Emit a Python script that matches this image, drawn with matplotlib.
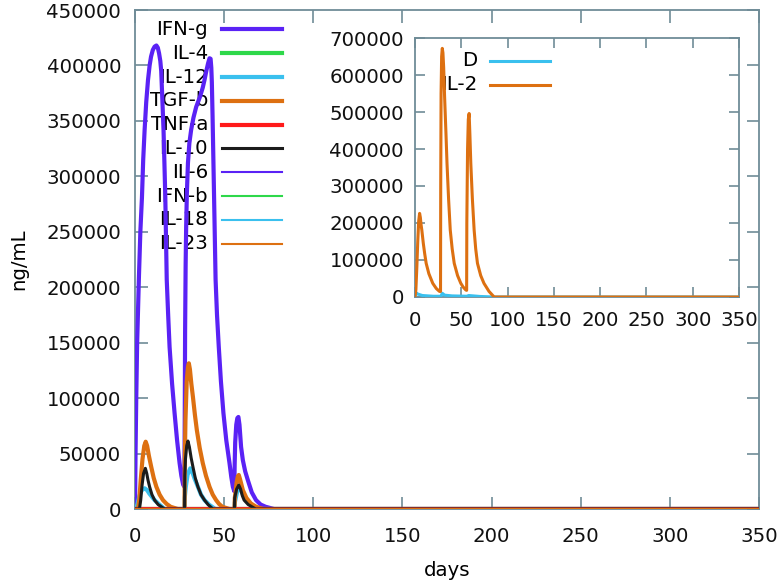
import matplotlib
matplotlib.use("Agg")
import matplotlib.pyplot as plt
from matplotlib.lines import Line2D

# values (days, ng/mL)
ifng_t = [0, 0.3, 0.7, 1.2, 2.2, 3, 3.9, 4.6, 5.4, 6.3, 7.3, 8.2, 9, 10, 11, 12, 12.8, 13.5, 14.2,
          14.7, 15.2, 16, 16.5, 17, 17.8, 18.6, 19.4, 20.8, 22.2, 23.6, 25, 26, 27, 27.7,
          27.9, 28.1, 28.4, 28.7, 29.1, 29.7, 30.5, 31.5, 32.8, 34.3, 36.5, 38, 39, 40, 41, 41.8,
          42.4, 42.8, 43.1, 43.5, 44, 44.6, 45.2, 46, 47, 48.2, 49.6, 51.2, 53, 54, 54.9, 55.7,
          55.9, 56.2, 56.8, 57.4, 58, 58.6, 59.5, 60.5, 61.8, 63.3, 65.5, 67.9, 70.5, 73.3, 78, 350]
ifng_v = [0, 50000, 100000, 150000, 209000, 250000, 281000, 315000, 342000, 367000, 387000, 400000,
          408000, 414000, 417000, 418000, 416000, 411000, 404000, 395000, 375000, 342000, 312000,
          281000, 207000, 175000, 146000, 113000, 86500, 62000, 41500, 30000, 22000, 20000,
          80000, 160000, 220000, 255000, 285000, 312000, 330000, 342000, 353000, 362500, 372000,
          380000, 387000, 395000, 402000, 406500, 406000, 398000, 385000, 355000, 312000, 260000,
          207000, 175000, 146000, 115000, 86500, 62000, 41500, 29000, 20000, 16000,
          40000, 60000, 76000, 82000, 83000, 76000, 56000, 44000, 34000, 26000, 15000, 8000, 4000,
          2000, 0, 0]

tgfb_t = [0, 1.7, 2.5, 3.2, 4.2, 5.2, 6, 6.8, 7.8, 9.1, 10.5, 12, 13.8, 15.7, 17.8, 20, 24, 27.8,
          27.9, 28.3, 29, 29.7, 30.2, 30.8, 31.6, 32.5, 33.6, 34.7, 36.3, 38, 39.8, 41.8, 43.6, 45.5,
          47.2, 49, 53, 55.8, 56, 57, 57.7, 58.2, 58.9, 60.5, 62.5, 65, 68, 72, 350]
tgfb_v = [0, 0, 10000, 26000, 45000, 57000, 60700, 57000, 48000, 38000, 28000, 20000, 13000, 8000,
          4500, 2000, 0, 0, 40000, 80000, 115000, 128000, 131400, 126000, 113000, 101000, 85000,
          71000, 55000, 41500, 30000, 20000, 13000, 8000, 4500, 2000, 0, 0, 10000, 24000, 29500,
          30700, 27000, 17000, 10000, 5000, 2000, 0, 0]

il10_t = [0, 2.5, 3.2, 4, 4.8, 5.8, 6.6, 7.3, 8.2, 9.5, 11, 13, 16.6, 27.8, 27.9, 28.3, 29, 29.7,
          30.5, 31.5, 32.5, 33.8, 35.3, 37, 39, 41, 43.7, 55.8, 55.9, 57, 58.2, 59.2, 60.2, 61.2,
          63.5, 67.7, 350]
il10_v = [0, 0, 8000, 22000, 32000, 36700, 32000, 26000, 20000, 13000, 8000, 4000, 0, 0, 30000,
          45000, 57000, 61300, 56000, 46000, 38000, 28000, 20000, 13000, 8000, 4000, 0, 0, 10000,
          18000, 21600, 18000, 12000, 8000, 4000, 0, 0]

il12_t = [0, 0.6, 1.5, 2.5, 3.8, 5.4, 6.8, 8, 9.5, 11, 13, 14.8, 16.6, 27.8, 27.9, 28.5, 29.5, 31,
          32.2, 33.5, 35.3, 37, 39, 41.5, 45, 55.8, 56, 57.5, 58.5, 60, 62, 65, 68, 350]
il12_v = [0, 0, 5000, 12000, 17000, 18700, 17000, 14000, 11000, 8000, 5000, 2500, 0, 0, 10000,
          20000, 31000, 36700, 33000, 27000, 20000, 13000, 8000, 4000, 0, 0, 6000, 17000, 20000,
          15000, 9000, 4000, 0, 0]

zero_t = [0, 350]
zero_v = [0, 0]

il2_t = [0, 1, 2, 3, 4, 5, 5.8, 6.6, 7.4, 9, 10.5, 12.1, 15, 19.2, 23, 26.5, 27.6,
         27.8, 28.2, 28.8, 29.5, 30.2, 31, 32, 33.5, 34.6, 36.3, 38.1, 40.2, 42.4, 46, 49.5, 52,
         54.9, 55.8, 56, 56.8, 57.6, 58.5, 59.3, 60.3, 62, 63.9, 65.6, 67.5, 71, 74.5, 80, 85.5, 350]
il2_v = [0, 20000, 80000, 150000, 205000, 226000, 215000, 195000, 181000, 145000, 117000, 91000,
         63000, 37000, 23000, 15000, 15000, 300000, 550000, 650000, 672000, 660000, 620000, 541000,
         440000, 361000, 265000, 181000, 130000, 91000, 58000, 37000, 27000, 19000, 18000, 200000,
         400000, 480000, 496000, 440000, 361000, 265000, 181000, 130000, 91000, 58000, 37000, 15000,
         0, 0]

d_t = [0, 1, 3, 8, 20, 28, 29.5, 32, 40, 56, 58, 70, 85, 350]
d_v = [0, 12000, 8000, 4000, 2000, 2000, 10000, 5000, 3000, 2000, 4000, 1500, 0, 0]

violet = "#5a22f5"
green = "#2ed84a"
sky = "#3ac0ee"
orange = "#dd7011"
red = "#ff1a1a"
black = "#1c1c1c"
frame = "#6f8c97"

main_series = [
    ("IFN-g", ifng_t, ifng_v, violet, 3.0),
    ("IL-4", zero_t, zero_v, green, 3.0),
    ("IL-12", il12_t, il12_v, sky, 3.0),
    ("TGF-b", tgfb_t, tgfb_v, orange, 3.0),
    ("TNF-a", zero_t, zero_v, red, 3.0),
    ("IL-10", il10_t, il10_v, black, 2.2),
    ("IL-6", zero_t, zero_v, violet, 1.5),
    ("IFN-b", zero_t, zero_v, green, 1.5),
    ("IL-18", zero_t, zero_v, sky, 1.5),
    ("IL-23", zero_t, zero_v, orange, 1.5),
]
inset_series = [
    ("D", d_t, d_v, sky, 2.2),
    ("IL-2", il2_t, il2_v, orange, 2.2),
]

plt.rcParams['font.family'] = 'DejaVu Sans'
plt.rcParams['font.size'] = 14.2

fig = plt.figure(figsize=(7.79, 5.82), dpi=100)
ax = fig.add_axes([0.1733, 0.1254, 0.8010, 0.8574])


def style(a, tick_len):
    for s in a.spines.values():
        s.set_color(frame)
        s.set_linewidth(1.3)
    a.tick_params(direction="in", length=tick_len, width=1.2, color=frame,
                  top=True, right=True, labelcolor="#111111")


def key(a, series, x_text, x0, x1, y_start, dy):
    for i, (name, t, v, c, lw) in enumerate(series):
        y = y_start - i * dy
        a.text(x_text, y, name, transform=a.transAxes, ha="right", va="center", zorder=1)
        a.add_line(Line2D([x0, x1], [y, y], transform=a.transAxes, color=c, lw=lw, zorder=1))


key(ax, main_series, 0.117, 0.140, 0.236, 0.961, 0.0477)
for i, (name, t, v, c, lw) in enumerate(main_series):
    ax.plot(t, v, color=c, lw=lw, zorder=3 + i, solid_joinstyle="round")

ax.set_xlim(0, 350)
ax.set_ylim(0, 450000)
ax.set_xticks(range(0, 351, 50))
ax.set_yticks(range(0, 450001, 50000))
ax.set_xlabel("days", labelpad=11)
ax.set_ylabel("ng/mL", labelpad=13)
style(ax, 9)
ax.tick_params(axis="x", pad=13)
ax.tick_params(axis="y", pad=10)

ins = fig.add_axes([0.5327, 0.4897, 0.4160, 0.4450])
ins.set_facecolor("white")
key(ins, inset_series, 0.193, 0.232, 0.417, 0.912, 0.093)
for i, (name, t, v, c, lw) in enumerate(inset_series):
    ins.plot(t, v, color=c, lw=lw, zorder=3 + i, solid_joinstyle="round")
ins.set_xlim(0, 350)
ins.set_ylim(0, 700000)
ins.set_xticks(range(0, 351, 50))
ins.set_yticks(range(0, 700001, 100000))
style(ins, 7)
ins.tick_params(axis="x", pad=10)
ins.tick_params(axis="y", pad=8)

fig.savefig("out.png", dpi=100)
